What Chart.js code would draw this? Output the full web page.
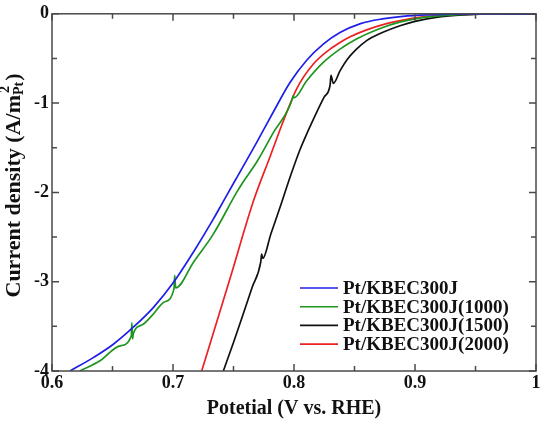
<!DOCTYPE html>
<html>
<head>
<meta charset="utf-8">
<title>Potential vs current density</title>
<script src="https://cdn.jsdelivr.net/npm/chart.js@4.4.1/dist/chart.umd.min.js"></script>
<style>
  html, body { margin: 0; padding: 0; background: #fff; }
  #wrap { width: 543px; height: 427px; }
</style>
</head>
<body>
<div id="wrap"><canvas id="myChart" width="543" height="427"></canvas></div>
<script>
// series labels
const seriesLabels = ['Pt/KBEC300J', 'Pt/KBEC300J(1000)', 'Pt/KBEC300J(1500)', 'Pt/KBEC300J(2000)'];

// Pt/KBEC300J
const blueV = [0.6149, 0.6341, 0.6507, 0.6672, 0.6837, 0.7003, 0.7168, 0.7333, 0.7416, 0.7512, 0.7554, 0.7692, 0.7829, 0.7967, 0.8105, 0.8242, 0.838, 0.855, 0.873, 0.890, 0.910, 0.935, 0.960, 1.0];
const blueJ = [-4.0, -3.85, -3.70, -3.51, -3.29, -3.01, -2.67, -2.30, -2.10, -1.87, -1.77, -1.44, -1.10, -0.77, -0.52, -0.34, -0.21, -0.11, -0.057, -0.028, -0.012, -0.004, 0, 0];

// Pt/KBEC300J(1000)
const greenV = [0.6231, 0.6397, 0.6562, 0.6655, 0.6660, 0.6666, 0.6672, 0.675, 0.6837, 0.6925, 0.7008, 0.7014, 0.7022, 0.7168, 0.7333, 0.7526, 0.7581, 0.7692, 0.7829, 0.7985, 0.7992, 0.8000, 0.8105, 0.8242, 0.838, 0.852, 0.870, 0.888, 0.905, 0.925, 0.950, 0.975, 1.0];
const greenJ = [-4.0, -3.886, -3.718, -3.61, -3.46, -3.64, -3.58, -3.48, -3.363, -3.23, -3.08, -2.93, -3.07, -2.785, -2.467, -2.00, -1.88, -1.66, -1.33, -0.96, -0.92, -0.94, -0.75, -0.545, -0.396, -0.28, -0.17, -0.09, -0.045, -0.018, -0.004, 0, 0];

// Pt/KBEC300J(1500)
const blackV = [0.7416, 0.7500, 0.7581, 0.7655, 0.7725, 0.7733, 0.7741, 0.7810, 0.7884, 0.7970, 0.805, 0.8120, 0.8188, 0.8250, 0.8298, 0.8306, 0.8325, 0.838, 0.8435, 0.851, 0.860, 0.873, 0.8876, 0.900, 0.920, 0.940, 0.960, 0.980, 1.0];
const blackJ = [-4.0, -3.68, -3.36, -3.06, -2.78, -2.69, -2.74, -2.46, -2.17, -1.82, -1.52, -1.30, -1.10, -0.93, -0.80, -0.69, -0.78, -0.64, -0.52, -0.405, -0.30, -0.21, -0.134, -0.085, -0.035, -0.012, -0.002, 0, 0];

// Pt/KBEC300J(2000)
const redV = [0.7237, 0.7477, 0.7664, 0.7802, 0.7912, 0.8022, 0.816, 0.8298, 0.838, 0.846, 0.860, 0.875, 0.890, 0.905, 0.925, 0.950, 0.975, 1.0];
const redJ = [-4.0, -2.94, -2.10, -1.60, -1.20, -0.84, -0.563, -0.396, -0.321, -0.26, -0.18, -0.115, -0.07, -0.038, -0.015, -0.003, 0, 0];

// axis ticks
const xTicks = [0.6, 0.7, 0.8, 0.9, 1.0];
const yTicks = [0, -1, -2, -3, -4];

const serif = "'Liberation Serif', 'Times New Roman', serif";

function toPoints(vs, js) {
  return vs.map((v, i) => ({ x: v, y: js[i] }));
}

function makeSet(label, vs, js, color) {
  return {
    label,
    data: toPoints(vs, js),
    borderColor: color,
    backgroundColor: color,
    borderWidth: 1.7,
    pointRadius: 0,
    showLine: true,
    cubicInterpolationMode: 'monotone',
  };
}

// box around the plot with inward ticks on every side
const framePlugin = {
  id: 'frame',
  afterDatasetsDraw(chart) {
    const { ctx, chartArea: a, scales: { x, y } } = chart;
    ctx.save();
    ctx.strokeStyle = '#4a4a4a';
    ctx.lineWidth = 1.5;
    ctx.strokeRect(a.left, a.top, a.right - a.left, a.bottom - a.top);
    ctx.beginPath();
    for (let i = 0; i <= 8; i++) {
      const px = x.getPixelForValue(xTicks[0] + i * 0.05);
      const len = i % 2 === 0 ? 7 : 5;
      ctx.moveTo(px, a.bottom); ctx.lineTo(px, a.bottom - len);
      ctx.moveTo(px, a.top); ctx.lineTo(px, a.top + len);
    }
    for (let i = 0; i <= 8; i++) {
      const py = y.getPixelForValue(yTicks[0] - i * 0.5);
      const len = i % 2 === 0 ? 7 : 5;
      ctx.moveTo(a.left, py); ctx.lineTo(a.left + len, py);
      ctx.moveTo(a.right, py); ctx.lineTo(a.right - len, py);
    }
    ctx.stroke();
    ctx.restore();
  },
};

// legend inside the plot, lower right
const legendPlugin = {
  id: 'innerLegend',
  afterDraw(chart) {
    const { ctx, chartArea: a } = chart;
    ctx.save();
    ctx.font = 'bold 19px ' + serif;
    ctx.textBaseline = 'middle';
    ctx.fillStyle = '#111';
    chart.data.datasets.forEach((ds, i) => {
      const yy = a.bottom - 83 + i * 18.7;
      ctx.strokeStyle = ds.borderColor;
      ctx.lineWidth = 1.6;
      ctx.beginPath();
      ctx.moveTo(a.right - 236, yy);
      ctx.lineTo(a.right - 198, yy);
      ctx.stroke();
      ctx.fillText(ds.label, a.right - 193, yy + 1);
    });
    ctx.restore();
  },
};

// y title with subscript / superscript
const yTitlePlugin = {
  id: 'yTitle',
  afterDraw(chart) {
    const { ctx } = chart;
    const big = 'bold 22px ' + serif;
    const small = 'bold 14px ' + serif;
    const parts = [
      { t: 'Current density (A/m', f: big, dy: 0 },
      { t: 'Pt', f: small, dy: 5 },
      { t: '2', f: small, dy: -9 },
      { t: ')', f: big, dy: 0 },
    ];
    ctx.save();
    ctx.translate(14, 186);
    ctx.rotate(-Math.PI / 2);
    ctx.textBaseline = 'middle';
    ctx.fillStyle = '#111';
    parts.forEach(p => { ctx.font = p.f; p.w = ctx.measureText(p.t).width; });
    // the superscript sits over the subscript
    const total = parts[0].w + Math.max(parts[1].w, parts[2].w) + parts[3].w;
    let cx = -total / 2;
    ctx.font = big; ctx.fillText(parts[0].t, cx, 0); cx += parts[0].w;
    ctx.font = small; ctx.fillText(parts[1].t, cx, parts[1].dy);
    ctx.fillText(parts[2].t, cx + 2, parts[2].dy);
    cx += Math.max(parts[1].w, parts[2].w) + 1;
    ctx.font = big; ctx.fillText(parts[3].t, cx, 0);
    ctx.restore();
  },
};

const ctx = document.getElementById('myChart');
const myChart = new Chart(ctx, {
  type: 'scatter',
  data: {
    datasets: [
      makeSet(seriesLabels[0], blueV, blueJ, '#1f1fe8'),
      makeSet(seriesLabels[1], greenV, greenJ, '#1e961e'),
      makeSet(seriesLabels[2], blackV, blackJ, '#111111'),
      makeSet(seriesLabels[3], redV, redJ, '#ec2222'),
    ],
  },
  options: {
    responsive: false,
    animation: false,
    devicePixelRatio: 1,
    layout: { padding: { top: 13, right: 7, left: 0, bottom: 0 } },
    plugins: {
      legend: { display: false },
      tooltip: { enabled: false },
    },
    scales: {
      x: {
        type: 'linear',
        min: 0.6,
        max: 1.0,
        afterFit: s => { s.height = 56; },
        afterBuildTicks: s => { s.ticks = xTicks.map(v => ({ value: v })); },
        grid: { display: false, drawTicks: false },
        border: { display: false },
        ticks: {
          padding: 2,
          color: '#111',
          font: { family: serif, size: 18, weight: 'bold' },
          callback: v => (v === 1 ? '1' : v.toFixed(1)),
        },
        title: {
          display: true,
          text: 'Potetial (V vs. RHE)',
          color: '#111',
          font: { family: serif, size: 20, weight: 'bold' },
          padding: { top: 0, bottom: 6 },
        },
      },
      y: {
        type: 'linear',
        min: -4,
        max: 0,
        afterFit: s => { s.width = 52; },
        afterBuildTicks: s => { s.ticks = yTicks.map(v => ({ value: v })); },
        grid: { display: false, drawTicks: false },
        border: { display: false },
        ticks: {
          padding: 3,
          color: '#111',
          font: { family: serif, size: 18, weight: 'bold' },
          callback: v => String(v),
        },
      },
    },
  },
  plugins: [framePlugin, legendPlugin, yTitlePlugin],
});
</script>
</body>
</html>
